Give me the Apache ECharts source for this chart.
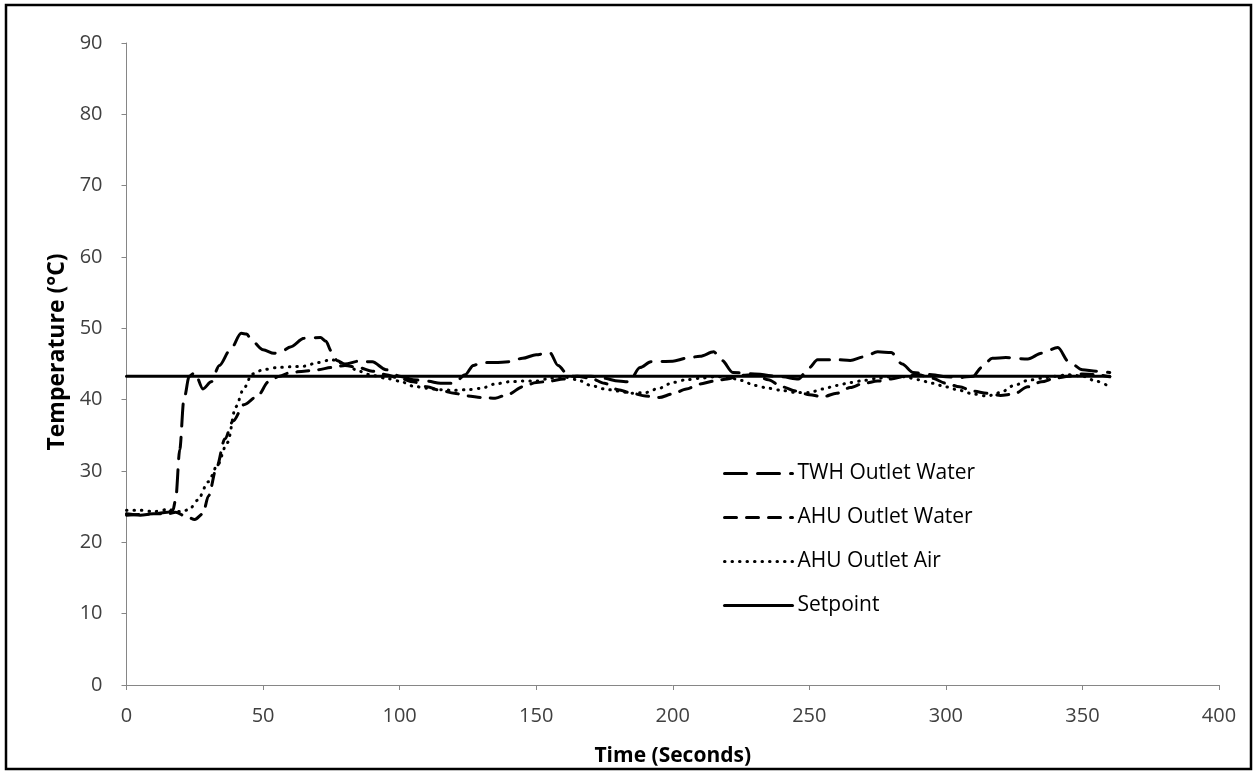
<!DOCTYPE html>
<html>
<head>
<meta charset="utf-8">
<script src="https://cdn.jsdelivr.net/npm/echarts@6/dist/echarts.min.js"></script>
<style>
html,body{margin:0;padding:0;background:#fff;}
#chart{width:1257px;height:773px;}
</style>
</head>
<body>
<div id="chart"></div>
<script>
// ---- data ----
const xTicks = [0, 50, 100, 150, 200, 250, 300, 350, 400];
const yTicks = [0, 10, 20, 30, 40, 50, 60, 70, 80, 90];

const twhTime = [0,5,10,15,17,18,19.5,21,23,25,28,31,34,38,42,44,46,50,54,57,60,65,71,73,75,77,80,85,90,95,100,105,110,115,120,124,127,130,135,140,145,150,155,158,162,170,175,180,184,188,192,200,205,210,215,218,222,230,240,246,250,253,260,265,270,275,280,284,288,295,300,305,310,313,317,322,330,335,341,345,350,355,360];
const twhTemp = [24,23.8,24,24.2,24.5,26,33,40,43.3,43.8,41.5,42.5,44.8,47,49.3,49.2,48.2,47,46.5,46.8,47.4,48.6,48.7,48.2,46.8,45.5,45,45.4,45.3,44.2,43.3,42.8,42.6,42.3,42.3,43.5,44.8,45.2,45.2,45.3,45.8,46.3,46.6,44.8,43.3,43.3,43,42.6,42.5,44.5,45.3,45.4,45.8,46.1,46.7,45.5,43.8,43.6,43.2,42.9,44.5,45.6,45.6,45.5,46,46.7,46.6,45,43.8,43.5,43.2,43.1,43.3,44.5,45.8,45.9,45.7,46.5,47.3,45.3,44.2,44,43.8];

const waterTime = [0,5,10,15,18,22,25,28,30,33,36,39,43,48,52,56,60,65,70,75,80,85,90,95,100,105,110,115,120,125,130,135,140,145,150,155,160,165,170,175,180,185,190,195,200,205,210,215,220,225,230,235,240,245,250,255,260,265,270,275,280,285,290,295,300,305,310,315,320,325,330,335,340,345,350,355,360];
const waterTemp = [23.8,23.9,24,24,24.2,23.6,23.2,24,26.5,30.5,34.5,37,39.3,40.5,42.5,43.3,43.8,44,44.2,44.5,44.8,44.5,44,43.5,43,42.5,41.8,41.3,40.9,40.5,40.3,40.2,40.8,41.8,42.4,42.6,42.9,43.3,43,42.3,41.4,40.9,40.5,40.3,40.8,41.5,42.2,42.6,42.9,43.4,43.5,42.8,41.8,41.2,40.7,40.4,40.9,41.7,42.3,42.6,42.9,43.3,43.5,43,42.3,41.8,41.2,40.9,40.6,40.8,41.8,42.5,43,43.3,43.6,43.5,43.2];

const airTime = [0,5,10,15,20,23,26,30,33,37,40,43,46,50,55,60,65,70,75,80,85,90,95,100,105,110,115,120,125,130,135,140,145,150,155,160,165,170,175,180,185,190,195,200,205,210,215,220,225,230,235,240,245,250,255,260,265,270,275,280,285,290,295,300,305,310,315,320,325,330,335,340,345,350,355,360];
const airTemp = [24.5,24.5,24.3,24.6,24.3,24.6,25.9,28.5,30.6,34,39,41.6,43.6,44.2,44.5,44.6,44.7,45.2,45.6,45,44,43.4,43,42.6,41.9,41.6,41.4,41.3,41.4,41.6,42.2,42.5,42.6,42.6,43,43.2,42.8,42,41.5,41.2,40.9,41,41.6,42.4,42.8,43,43.2,43.2,42.7,42,41.6,41.3,41,41,41.5,42,42.4,42.7,43,43.2,43.2,42.8,42.3,41.8,41.3,40.8,40.5,41,42,42.7,43,43.3,43.5,43.3,42.6,41.8];

const setTime = [0, 360];
const setTemp = [43.3, 43.3];

const seriesNames = ['TWH Outlet Water', 'AHU Outlet Water', 'AHU Outlet Air', 'Setpoint'];

function pairs(t, v) { return t.map((x, i) => [x, v[i]]); }

const FONT = 'Open Sans';
const chart = echarts.init(document.getElementById('chart'), null, {renderer: 'canvas'});

function lineSeries(name, t, v, type, smooth) {
  return {
    name: name,
    type: 'line',
    data: pairs(t, v),
    symbol: 'none',
    showSymbol: false,
    legendIcon: 'none',
    smooth: smooth,
    smoothMonotone: 'x',
    animation: false,
    itemStyle: { color: '#000', opacity: 0 },
    lineStyle: { color: '#000', width: 3, type: type, cap: 'round' }
  };
}

const option = {
  backgroundColor: '#fff',
  color: ['#000', '#000', '#000', '#000'],
  animation: false,
  graphic: [{
    type: 'rect',
    shape: { x: 6, y: 5, width: 1245, height: 764 },
    style: { fill: 'none', stroke: '#000', lineWidth: 2.5 },
    silent: true
  }],
  grid: { left: 126.5, right: 38, top: 43, bottom: 88, containLabel: false },
  xAxis: {
    type: 'value',
    min: xTicks[0], max: xTicks[xTicks.length - 1], interval: 50,
    name: 'Time (Seconds)',
    nameLocation: 'middle',
    nameGap: 61,
    nameTextStyle: { fontFamily: FONT, fontWeight: 'bold', fontSize: 21, color: '#000' },
    axisLine: { show: true, onZero: false, lineStyle: { color: '#868686', width: 1 } },
    axisTick: { show: true, length: 5, lineStyle: { color: '#868686' } },
    axisLabel: { fontFamily: FONT, fontSize: 20, color: '#404040', margin: 21 },
    splitLine: { show: false }
  },
  yAxis: {
    type: 'value',
    min: yTicks[0], max: yTicks[yTicks.length - 1], interval: 10,
    name: 'Temperature (°C)',
    nameLocation: 'middle',
    nameGap: 57,
    nameRotate: 90,
    nameTextStyle: { fontFamily: FONT, fontWeight: 'bold', fontSize: 23, color: '#000', padding: [0, 0, 0, 24] },
    axisLine: { show: true, lineStyle: { color: '#868686', width: 1 } },
    axisTick: { show: true, length: 5, lineStyle: { color: '#868686' } },
    axisLabel: { fontFamily: FONT, fontSize: 20, color: '#404040', margin: 24 },
    splitLine: { show: false }
  },
  legend: {
    orient: 'vertical',
    left: 718,
    top: 458,
    itemWidth: 68,
    itemHeight: 12,
    itemGap: 23,
    data: seriesNames,
    itemStyle: { opacity: 0 },
    lineStyle: { width: 3 },
    textStyle: { fontFamily: FONT, fontSize: 21, color: '#000' }
  },
  series: [
    lineSeries(seriesNames[0], twhTime, twhTemp, [22, 11], 0.3),
    lineSeries(seriesNames[1], waterTime, waterTemp, [12, 10], 0.3),
    lineSeries(seriesNames[2], airTime, airTemp, [0.5, 7], 0.3),
    lineSeries(seriesNames[3], setTime, setTemp, 'solid', false)
  ]
};
chart.setOption(option);
</script>
</body>
</html>
